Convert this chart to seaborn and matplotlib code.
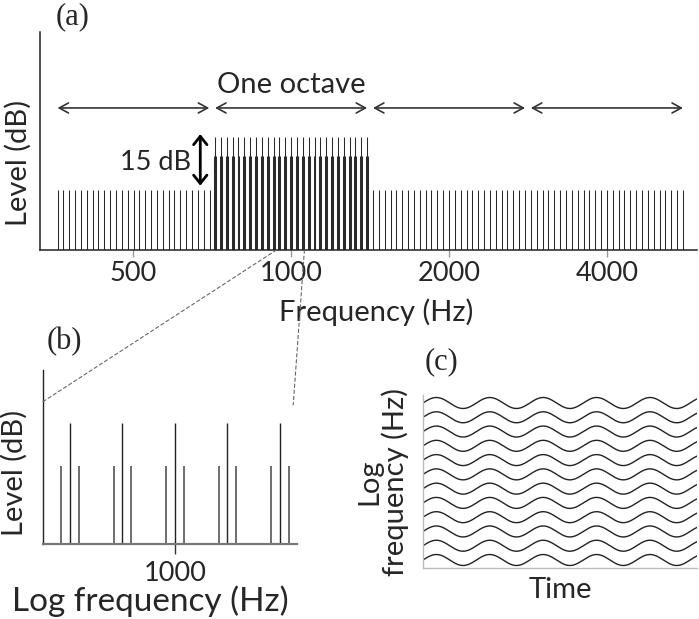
import numpy as np
import pandas as pd
import seaborn as sns
import matplotlib.pyplot as plt
from matplotlib.patches import ConnectionPatch
from matplotlib.ticker import NullLocator, FixedLocator, FixedFormatter

# --- panel (a): comb of tones, one octave raised ---
band_edges_hz = [354, 707, 1414, 2828, 5657]
band_peak_db = [17, 32, 17, 17]
band_side_db = [0, 26.5, 0, 0]
components_per_octave = 27
side_offset = 0.166          # sideband distance, fraction of component spacing
a_ticks = [500, 1000, 2000, 4000]
a_xlim = (332, 5940)
a_ylim = (0, 61.7)

# --- panel (b): zoom around 1000 Hz ---
b_steps = [-2, -1, 0, 1, 2]  # component index around 1000 Hz
b_center_db = 32
b_side_db = 20.6
b_xlim = (937.5, 1061.5)
b_ylim = (0, 46)

# --- panel (c): frequency-modulated tracks ---
n_tracks = 12
fm_cycles = 5.13
fm_depth = 0.385

sns.set_theme(style="white")
plt.rcParams["font.family"] = ["Lato", "DejaVu Sans"]

fig = plt.figure(figsize=(6.99, 6.19), dpi=100)
ax_a = fig.add_axes([40/699, 1-250/619, 657/699, 218/619])
ax_b = fig.add_axes([43/699, 1-544/619, 254/699, 174/619])
ax_c = fig.add_axes([423/699, 1-568/619, 274/699, 173/619])

line_col = "#2a2a2a"
lab_fs = 21
tick_fs = 19.5


def place_labels(ax, xpos, ypos):
    # centre both axis labels on the given axes-fraction points
    ax.xaxis.set_label_coords(*xpos)
    ax.yaxis.set_label_coords(*ypos)
    ax.xaxis.label.set_va("center")
    ax.yaxis.label.set_va("center")


# ---------------- (a) ----------------
for lo, hi, peak, side in zip(band_edges_hz[:-1], band_edges_hz[1:], band_peak_db, band_side_db):
    n = int(round(components_per_octave * np.log2(hi / lo)))
    freqs = lo * 2 ** ((np.arange(n) + 0.5) / components_per_octave)
    ax_a.vlines(freqs, 0, peak, color=line_col, lw=0.75)
    if side > 0:
        for sgn in (-1, 1):
            ax_a.vlines(freqs * 2 ** (sgn * side_offset / components_per_octave), 0, side,
                        color=line_col, lw=0.75)
    first = lo * 2 ** (0.5 / components_per_octave)
    last = hi * 2 ** (-0.5 / components_per_octave)
    ax_a.annotate("", xy=(last, 40.2), xytext=(first, 40.2),
                  arrowprops=dict(arrowstyle="<->,head_length=0.55,head_width=0.3",
                                  color="#333333", lw=1.2, shrinkA=0, shrinkB=0))

ax_a.text(1000, 46.8, "One octave", ha="center", va="center", fontsize=lab_fs)
ax_a.annotate("", xy=(671, 32.8), xytext=(671, 18.2),
              arrowprops=dict(arrowstyle="<->,head_length=0.5,head_width=0.4",
                              color="black", lw=2.0, shrinkA=0, shrinkB=0))
ax_a.text(645, 24.9, "15 dB", ha="right", va="center", fontsize=tick_fs)

ax_a.set_xscale("log")
ax_a.set_xlim(*a_xlim)
ax_a.set_ylim(*a_ylim)
ax_a.xaxis.set_major_locator(FixedLocator(a_ticks))
ax_a.xaxis.set_major_formatter(FixedFormatter([str(t) for t in a_ticks]))
ax_a.xaxis.set_minor_locator(NullLocator())
ax_a.set_yticks([])
ax_a.tick_params(axis="x", bottom=True, length=5, width=1, color="#999999",
                 labelsize=tick_fs, pad=3)
ax_a.set_xlabel("Frequency (Hz)", fontsize=lab_fs)
ax_a.set_ylabel("Level (dB)", fontsize=lab_fs)
place_labels(ax_a, ((376-40)/657, (250-312)/218), ((18-40)/657, (250-163)/218))
sns.despine(ax=ax_a)
for s in ("left", "bottom"):
    ax_a.spines[s].set_color("#222222")
    ax_a.spines[s].set_linewidth(1.1)

# ---------------- (b) ----------------
for k in b_steps:
    fc = 1000 * 2 ** (k / components_per_octave)
    ax_b.vlines([fc], 0, b_center_db, color="#222222", lw=1.0)
    ax_b.vlines([fc * 2 ** (-side_offset / components_per_octave),
                 fc * 2 ** (side_offset / components_per_octave)], 0, b_side_db,
                color="#555555", lw=1.2)
ax_b.set_xscale("log")
ax_b.set_xlim(*b_xlim)
ax_b.set_ylim(*b_ylim)
ax_b.xaxis.set_major_locator(FixedLocator([1000]))
ax_b.xaxis.set_major_formatter(FixedFormatter(["1000"]))
ax_b.xaxis.set_minor_locator(NullLocator())
ax_b.set_yticks([])
ax_b.tick_params(axis="x", bottom=True, length=7, width=1, color="#333333",
                 labelsize=tick_fs, pad=5)
ax_b.set_xlabel("Log frequency (Hz)", fontsize=24)
ax_b.set_ylabel("Level (dB)", fontsize=lab_fs)
place_labels(ax_b, ((150-43)/254, (544-601)/174), ((14-43)/254, (544-473)/174))
sns.despine(ax=ax_b)
ax_b.spines["left"].set_color("#222222")
ax_b.spines["left"].set_linewidth(1.0)
ax_b.spines["bottom"].set_color("#777777")
ax_b.spines["bottom"].set_linewidth(1.6)

# zoom connectors from (a) to (b)
for xa, xyb in ((b_xlim[0], (0.0, 0.818)), (1060, (0.985, 0.799))):
    con = ConnectionPatch(xyA=(xa, 0), coordsA=ax_a.transData,
                          xyB=xyb, coordsB=ax_b.transAxes,
                          color="#666666", lw=0.8, linestyle=(0, (3, 2.5)))
    fig.add_artist(con)

# ---------------- (c) ----------------
t = np.linspace(0, fm_cycles, 600)
tracks = pd.DataFrame({
    "time": np.tile(t, n_tracks),
    "logf": np.concatenate([i + fm_depth * np.sin(2 * np.pi * t) for i in range(n_tracks)]),
    "track": np.repeat(np.arange(n_tracks), len(t)),
})
sns.lineplot(data=tracks, x="time", y="logf", units="track", estimator=None,
             color="#222222", lw=1.0, ax=ax_c)
ax_c.set_xlim(0, fm_cycles)
ax_c.set_ylim(-0.56, n_tracks - 1 + 0.56)
ax_c.set_xticks([])
ax_c.set_yticks([])
ax_c.set_xlabel("Time", fontsize=lab_fs)
ax_c.set_ylabel("Log\nfrequency (Hz)", fontsize=lab_fs, linespacing=0.95)
place_labels(ax_c, (0.5, (568-590)/173), ((383-423)/274, 0.5))
sns.despine(ax=ax_c)
for s in ("left", "bottom"):
    ax_c.spines[s].set_color("#bbbbbb")
    ax_c.spines[s].set_linewidth(1.0)

# panel letters
serif = ["Liberation Serif", "DejaVu Serif"]
fig.text(73/699, 1-17/619, "(a)", family=serif, fontsize=22, ha="center", va="center")
fig.text(64/699, 1-342/619, "(b)", family=serif, fontsize=22, ha="center", va="center")
fig.text(441/699, 1-362/619, "(c)", family=serif, fontsize=22, ha="center", va="center")

fig.savefig("out.png", dpi=100)
